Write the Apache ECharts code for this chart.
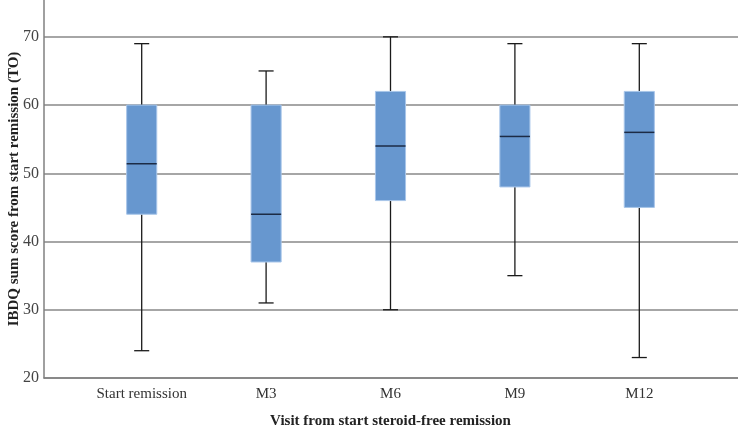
<!DOCTYPE html>
<html>
<head>
<meta charset="utf-8">
<script src="https://cdn.jsdelivr.net/npm/echarts@6/dist/echarts.min.js"></script>
<style>html,body{margin:0;padding:0;background:#fff;}#c{width:738px;height:429px;}</style>
</head>
<body>
<div id="c"></div>
<script>
var categories = ['Start remission', 'M3', 'M6', 'M9', 'M12'];
var whiskerLow = [24, 31, 30, 35, 23];
var q1 = [44, 37, 46, 48, 45];
var median = [51.4, 44, 54, 55.4, 56];
var q3 = [60, 60, 62, 60, 62];
var whiskerHigh = [69, 65, 70, 69, 69];
var yTicks = [20, 30, 40, 50, 60, 70];

var data = categories.map(function (c, i) {
  return [i, whiskerLow[i], q1[i], median[i], q3[i], whiskerHigh[i]];
});

var FONT = '"Liberation Serif", "DejaVu Serif", serif';
var chart = echarts.init(document.getElementById('c'));
var yMin = 20, yMax = 80;

chart.setOption({
  animation: false,
  grid: [
    {left: 44, right: 0, top: -31.4, bottom: 51, containLabel: false, outerBoundsMode: 'none'},
    {left: 79.5, right: 36.5, top: -31.4, bottom: 51, containLabel: false, outerBoundsMode: 'none'},
    {left: 44, right: 0, top: 0, bottom: 51, containLabel: false, outerBoundsMode: 'none'}
  ],
  xAxis: [
    {type: 'value', gridIndex: 0, min: 0, max: 1, axisLine: {show: true, lineStyle: {color: '#808080', width: 1.5}},
     axisTick: {show: false}, axisLabel: {show: false}, splitLine: {show: false}},
    {type: 'category', gridIndex: 1, data: categories,
     axisLine: {show: false}, axisTick: {show: false},
     axisLabel: {fontFamily: FONT, fontSize: 15, color: '#333', margin: 9},
     name: 'Visit from start steroid-free remission', nameLocation: 'middle', nameGap: 36,
     nameTextStyle: {fontFamily: FONT, fontSize: 15, fontWeight: 'bold', color: '#222'}},
    {type: 'value', gridIndex: 2, min: 0, max: 1, show: false}
  ],
  yAxis: [
    {type: 'value', gridIndex: 0, min: yMin, max: yMax, interval: 10,
     axisLine: {show: true, lineStyle: {color: '#808080', width: 1.5}},
     axisTick: {show: false},
     axisLabel: {fontFamily: FONT, fontSize: 16, color: '#444', margin: 5,
       formatter: function (v) { return yTicks.indexOf(v) >= 0 ? String(v) : ''; }},
     splitLine: {show: true, lineStyle: {color: '#888', width: 1.5}}},
    {type: 'value', gridIndex: 1, min: yMin, max: yMax, show: false},
    {type: 'value', gridIndex: 2, min: 0, max: 1,
     axisLine: {show: false}, axisTick: {show: false}, axisLabel: {show: false}, splitLine: {show: false},
     name: 'IBDQ sum score from start remission (TO)', nameLocation: 'middle', nameGap: 22,
     nameTextStyle: {fontFamily: FONT, fontSize: 15, fontWeight: 'bold', color: '#222'}}
  ],
  series: [{
    type: 'custom',
    xAxisIndex: 1, yAxisIndex: 1,
    data: data,
    encode: {x: 0, y: [1, 2, 3, 4, 5]},
    renderItem: function (params, api) {
      var x = api.value(0);
      var pLow = api.coord([x, api.value(1)]);
      var pQ1 = api.coord([x, api.value(2)]);
      var pMed = api.coord([x, api.value(3)]);
      var pQ3 = api.coord([x, api.value(4)]);
      var pHigh = api.coord([x, api.value(5)]);
      var band = api.size([1, 0])[0];
      var bw = band * 0.242;
      var cw = bw / 2;
      var cx = pQ1[0];
      var stroke = {stroke: '#1a1a1a', lineWidth: 1.3};
      return {
        type: 'group',
        children: [
          {type: 'line', shape: {x1: cx, y1: pHigh[1], x2: cx, y2: pQ3[1]}, style: stroke},
          {type: 'line', shape: {x1: cx - cw / 2, y1: pHigh[1], x2: cx + cw / 2, y2: pHigh[1]}, style: stroke},
          {type: 'line', shape: {x1: cx, y1: pLow[1], x2: cx, y2: pQ1[1]}, style: stroke},
          {type: 'line', shape: {x1: cx - cw / 2, y1: pLow[1], x2: cx + cw / 2, y2: pLow[1]}, style: stroke},
          {type: 'rect', shape: {x: cx - bw / 2, y: pQ3[1], width: bw, height: pQ1[1] - pQ3[1]},
           style: {fill: '#6797cf', stroke: '#a9c6ea', lineWidth: 1}},
          {type: 'line', shape: {x1: cx - bw / 2, y1: pMed[1], x2: cx + bw / 2, y2: pMed[1]},
           style: {stroke: '#1c2b45', lineWidth: 1.5}}
        ]
      };
    }
  }]
});
</script>
</body>
</html>
